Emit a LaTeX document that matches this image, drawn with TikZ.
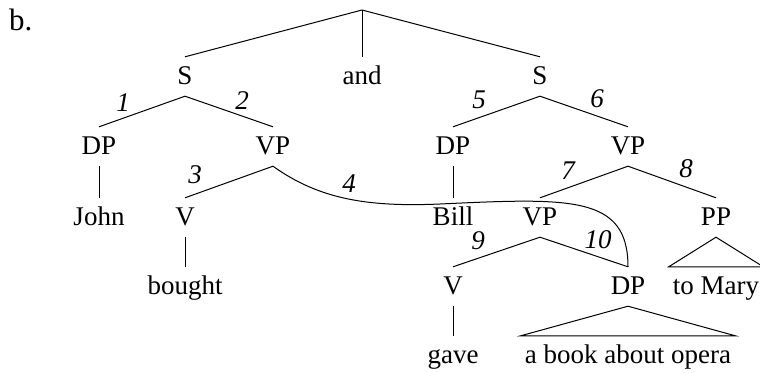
\documentclass[tikz,border=0pt]{standalone}
\usepackage{fontspec}
\setmainfont{Liberation Serif}
\begin{document}
\begin{tikzpicture}[x=1pt,y=-1pt,
  lab/.style={font=\fontsize{27}{32}\selectfont, anchor=base, inner xsep=0pt, inner ysep=8pt, text height=19pt, text depth=4pt},
  tri/.style={lab, inner xsep=4pt},
  num/.style={font=\fontsize{27}{32}\selectfont\itshape, inner sep=0pt},
  br/.style={line width=1pt, line join=miter}]
\useasboundingbox (0,0) rectangle (760,372);
\node[font=\fontsize{31}{36}\selectfont, anchor=base west, inner sep=0pt] (b) at (9,30) {b.};
\coordinate (root) at (362,10);
\node[lab] (S1) at (185,84) {S};
\node[lab] (and) at (362,84) {and};
\node[lab] (S2) at (540,84) {S};
\node[lab] (DP1) at (99,154) {DP};
\node[lab] (VP1) at (273,154) {VP};
\node[lab] (DP2) at (453,154) {DP};
\node[lab] (VP2) at (628,154) {VP};
\node[lab] (John) at (99,225) {John};
\node[lab] (V1) at (185,225) {V};
\node[lab] (Bill) at (453,225) {Bill};
\node[lab] (VP3) at (540,225) {VP};
\node[lab] (PP) at (716,225) {PP};
\node[lab] (bought) at (185,294) {bought};
\node[lab] (V2) at (453,294) {V};
\node[lab] (DP3) at (628,294) {DP};
\node[tri] (Mary) at (716,294) {to Mary};
\node[lab] (gave) at (453,363) {gave};
\node[tri] (book) at (628,363) {a book about opera};
\coordinate (mid) at (440,204);
\draw[br] (root) -- (S1.north);
\draw[br] (root) -- (and.north);
\draw[br] (root) -- (S2.north);
\draw[br] (S1.south) -- (DP1.north);
\draw[br] (S1.south) -- (VP1.north);
\draw[br] (DP1.south) -- (John.north);
\draw[br] (VP1.south) -- (V1.north);
\draw[br] (V1.south) -- (bought.north);
\draw[br] (S2.south) -- (DP2.north);
\draw[br] (S2.south) -- (VP2.north);
\draw[br] (DP2.south) -- (Bill.north);
\draw[br] (VP2.south) -- (VP3.north);
\draw[br] (VP2.south) -- (PP.north);
\draw[br] (VP3.south) -- (V2.north);
\draw[br] (VP3.south) -- (DP3.north);
\draw[br] (V2.south) -- (gave.north);
\draw[br] (DP3.south) -- (book.north east) -- (book.north west) -- cycle;
\draw[br] (PP.south) -- (Mary.north east) -- (Mary.north west) -- cycle;
\draw[br] (VP1.south) .. controls (320,200) and (370,207) .. (mid) .. controls (570,198) and (628,195) .. (DP3.north);
\node[num] (n1) at (123,103) {1};
\node[num] (n2) at (242,101) {2};
\node[num] (n3) at (195,175) {3};
\node[num] (n4) at (349,184) {4};
\node[num] (n5) at (479,100) {5};
\node[num] (n6) at (597,99) {6};
\node[num] (n7) at (568,171) {7};
\node[num] (n8) at (686,169) {8};
\node[num] (n9) at (478,241) {9};
\node[num] (n10) at (598,240) {10};
\end{tikzpicture}
\end{document}
